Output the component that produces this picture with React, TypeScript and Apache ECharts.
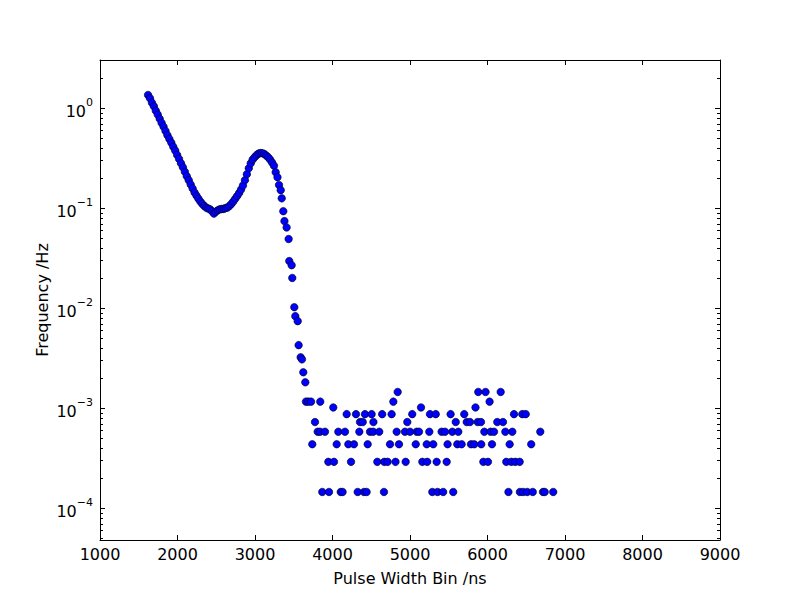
import React, { useEffect, useRef } from 'react';
import * as echarts from 'echarts';

// Main peak curve: pulse width bin (ns) and frequency (Hz)
const curveX = [
  1620, 1645, 1670, 1695, 1720, 1745, 1770, 1795, 1820, 1845, 1870, 1895, 1920, 1945, 1970, 1995,
  2020, 2045, 2070, 2095, 2120, 2145, 2170, 2195, 2220, 2245, 2270, 2295, 2320, 2345, 2370, 2395,
  2420, 2445, 2470, 2495, 2520, 2545, 2570, 2595, 2620, 2645, 2670, 2695, 2720, 2745, 2770, 2795,
  2820, 2845, 2870, 2895, 2920, 2945, 2970, 2995, 3020, 3045, 3070, 3095, 3120, 3145, 3170, 3195,
  3220, 3245, 3267, 3290, 3310, 3332, 3345, 3365, 3380, 3408, 3434, 3442, 3473, 3481, 3507, 3520,
  3551, 3563, 3589, 3606, 3623, 3649,
];
const curveY = [
  1.35, 1.25, 1.13, 1.04, 0.94, 0.86, 0.78, 0.71, 0.65, 0.59, 0.535, 0.49, 0.45, 0.41, 0.375, 0.34,
  0.31, 0.28, 0.255, 0.23, 0.208, 0.19, 0.172, 0.157, 0.143, 0.133, 0.124, 0.116, 0.11, 0.105, 0.101, 0.099,
  0.097, 0.093, 0.088, 0.092, 0.095, 0.097, 0.098, 0.098, 0.1, 0.101, 0.105, 0.11, 0.116, 0.124, 0.132, 0.141,
  0.153, 0.168, 0.19, 0.218, 0.25, 0.28, 0.305, 0.322, 0.338, 0.35, 0.355, 0.353, 0.347, 0.335, 0.322, 0.305,
  0.285, 0.265, 0.228, 0.203, 0.17, 0.151, 0.125, 0.093, 0.074, 0.064, 0.049, 0.0295, 0.0268, 0.02, 0.0102, 0.0083,
  0.0074, 0.00426, 0.00322, 0.00307, 0.00228, 0.00181,
];

// Noise floor tail
const noiseX = [
  3658, 3688, 3723, 3739, 3774, 3809, 3839, 3842, 3868, 3903, 3946, 3955, 4010, 4019, 4054, 4075,
  4106, 4130, 4161, 4183, 4204, 4239, 4277, 4303, 4325, 4346, 4355, 4390, 4406, 4419, 4440, 4454,
  4484, 4505, 4525, 4528, 4578, 4603, 4641, 4664, 4668, 4711, 4742, 4763, 4785, 4813, 4828, 4841,
  4858, 4935, 4944, 4965, 5000, 5029, 5074, 5086, 5116, 5142, 5159, 5216, 5222, 5249, 5258, 5288,
  5300, 5332, 5344, 5356, 5408, 5428, 5452, 5473, 5485, 5524, 5546, 5558, 5590, 5610, 5623, 5666,
  5700, 5732, 5774, 5787, 5829, 5845, 5873, 5881, 5916, 5919, 5946, 5959, 5975, 6006, 6027, 6040,
  6058, 6084, 6126, 6170, 6200, 6230, 6242, 6270, 6286, 6307, 6320, 6342, 6358, 6415, 6418, 6449,
  6459, 6493, 6512, 6564, 6584, 6681, 6716, 6738, 6848,
];
const noiseY = [
  1.16e-3, 1.16e-3, 1.16e-3, 4.35e-4, 7.25e-4, 5.8e-4, 5.8e-4, 1.16e-3, 1.45e-4, 5.8e-4, 2.9e-4, 1.45e-4, 1.015e-3, 2.9e-4, 4.35e-4, 5.8e-4,
  1.45e-4, 1.45e-4, 5.8e-4, 8.7e-4, 4.35e-4, 2.9e-4, 4.35e-4, 8.7e-4, 1.45e-4, 5.8e-4, 7.25e-4, 7.25e-4, 1.45e-4, 8.7e-4, 1.45e-4, 4.35e-4,
  5.8e-4, 8.7e-4, 5.8e-4, 7.25e-4, 2.9e-4, 5.8e-4, 8.7e-4, 1.45e-4, 2.9e-4, 2.9e-4, 4.35e-4, 8.7e-4, 1.16e-3, 2.9e-4, 5.8e-4, 1.45e-3,
  4.35e-4, 5.8e-4, 2.9e-4, 7.25e-4, 5.8e-4, 8.7e-4, 4.35e-4, 5.8e-4, 5.8e-4, 1.015e-3, 2.9e-4, 4.35e-4, 2.9e-4, 5.8e-4, 8.7e-4, 1.45e-4,
  4.35e-4, 8.7e-4, 2.9e-4, 1.45e-4, 5.8e-4, 1.45e-4, 5.8e-4, 2.9e-4, 4.35e-4, 8.7e-4, 5.8e-4, 1.45e-4, 7.25e-4, 4.35e-4, 5.8e-4, 4.35e-4,
  8.7e-4, 7.25e-4, 7.25e-4, 4.35e-4, 4.35e-4, 1.015e-3, 7.25e-4, 1.45e-3, 7.25e-4, 4.35e-4, 2.9e-4, 5.8e-4, 1.45e-3, 2.9e-4, 1.16e-3, 5.8e-4,
  4.35e-4, 5.8e-4, 7.25e-4, 1.45e-3, 7.25e-4, 5.8e-4, 2.9e-4, 1.45e-4, 4.35e-4, 2.9e-4, 5.8e-4, 8.7e-4, 2.9e-4, 2.9e-4, 1.45e-4, 8.7e-4,
  1.45e-4, 8.7e-4, 1.45e-4, 4.35e-4, 1.45e-4, 5.8e-4, 1.45e-4, 1.45e-4, 1.45e-4,
];

const X_MIN = 1000;
const X_MAX = 9000;
const X_STEP = 1000;
const Y_MIN = 4.8e-5;
const Y_MAX = 3.02;

const FONT = 'DejaVu Sans';

export default function App() {
  const ref = useRef<HTMLDivElement>(null);

  useEffect(() => {
    if (!ref.current) return;
    const chart = echarts.init(ref.current, null, { renderer: 'svg' });

    const points: number[][] = [];
    curveX.forEach((x, i) => points.push([x, curveY[i]]));
    noiseX.forEach((x, i) => points.push([x, noiseY[i]]));

    // minor log tick positions (2..9 x 10^k) inside the axis range
    const minor: number[][] = [];
    for (let k = -5; k <= 0; k++) {
      for (let m = 2; m <= 9; m++) {
        const v = m * Math.pow(10, k);
        if (v > Y_MIN && v < Y_MAX) minor.push([X_MIN, v]);
      }
    }

    const axisLineStyle = { color: '#000', width: 1 };

    const option: any = {
      animation: false,
      backgroundColor: '#fff',
      grid: { left: 100, right: 80, top: 60, bottom: 60, containLabel: false, outerBoundsMode: 'none' },
      xAxis: [
        {
          type: 'value',
          min: X_MIN,
          max: X_MAX,
          interval: X_STEP,
          position: 'bottom',
          name: 'Pulse Width Bin /ns',
          nameLocation: 'middle',
          nameGap: 30,
          nameMoveOverlap: false,
          nameTextStyle: { fontFamily: FONT, fontSize: 16, color: '#000' },
          axisLine: { show: true, lineStyle: axisLineStyle },
          axisTick: { show: true, inside: true, length: 5, lineStyle: axisLineStyle },
          axisLabel: {
            fontFamily: FONT,
            fontSize: 16,
            color: '#000',
            margin: 6,
            formatter: (v: number) => String(v),
          },
          splitLine: { show: false },
        },
        {
          type: 'value',
          min: X_MIN,
          max: X_MAX,
          interval: X_STEP,
          position: 'top',
          axisLine: { show: true, lineStyle: axisLineStyle },
          axisTick: { show: true, inside: true, length: 5, lineStyle: axisLineStyle },
          axisLabel: { show: false },
          splitLine: { show: false },
        },
      ],
      yAxis: [
        {
          type: 'log',
          logBase: 10,
          min: Y_MIN,
          max: Y_MAX,
          position: 'left',
          name: 'Frequency /Hz',
          nameLocation: 'middle',
          nameGap: 50,
          nameMoveOverlap: false,
          nameTextStyle: { fontFamily: FONT, fontSize: 16, color: '#000' },
          axisLine: { show: true, lineStyle: axisLineStyle },
          axisTick: { show: true, inside: true, length: 5, lineStyle: axisLineStyle },
          axisLabel: {
            showMinLabel: false,
            showMaxLabel: false,
            margin: 7,
            color: '#000',
            formatter: (v: number) => {
              const e = Math.round(Math.log10(v));
              const s = e < 0 ? '\u2212' + Math.abs(e) : String(e);
              return '{b|10}{s|' + s + '}';
            },
            rich: {
              b: { fontFamily: FONT, fontSize: 16, color: '#000', verticalAlign: 'bottom', lineHeight: 22 },
              s: { fontFamily: FONT, fontSize: 11, color: '#000', verticalAlign: 'top', lineHeight: 22 },
            },
          },
          splitLine: { show: false },
        },
        {
          type: 'log',
          logBase: 10,
          min: Y_MIN,
          max: Y_MAX,
          position: 'right',
          axisLine: { show: true, lineStyle: axisLineStyle },
          axisTick: { show: true, inside: true, length: 5, lineStyle: axisLineStyle },
          axisLabel: { show: false },
          splitLine: { show: false },
        },
      ],
      series: [
        {
          type: 'custom',
          xAxisIndex: 0,
          yAxisIndex: 0,
          data: minor,
          silent: true,
          clip: false,
          renderItem: (params: any, api: any) => {
            const p = api.coord([api.value(0), api.value(1)]);
            const cs = params.coordSys;
            const y = Math.round(p[1]) + 0.5;
            const st = { stroke: '#000', lineWidth: 1 };
            return {
              type: 'group',
              children: [
                { type: 'line', shape: { x1: cs.x, y1: y, x2: cs.x + 3, y2: y }, style: st },
                { type: 'line', shape: { x1: cs.x + cs.width - 3, y1: y, x2: cs.x + cs.width, y2: y }, style: st },
              ],
            };
          },
          z: 1,
        },
        {
          type: 'scatter',
          xAxisIndex: 0,
          yAxisIndex: 0,
          data: points,
          symbol: 'circle',
          symbolSize: 7.5,
          itemStyle: { color: '#0000ff', borderColor: '#000', borderWidth: 0.6, opacity: 1 },
          z: 3,
        },
      ],
    };

    chart.setOption(option);
    return () => chart.dispose();
  }, []);

  return (
    <div
      ref={ref}
      style={{ position: 'fixed', left: 0, top: 0, width: 800, height: 600, background: '#fff' }}
    />
  );
}
